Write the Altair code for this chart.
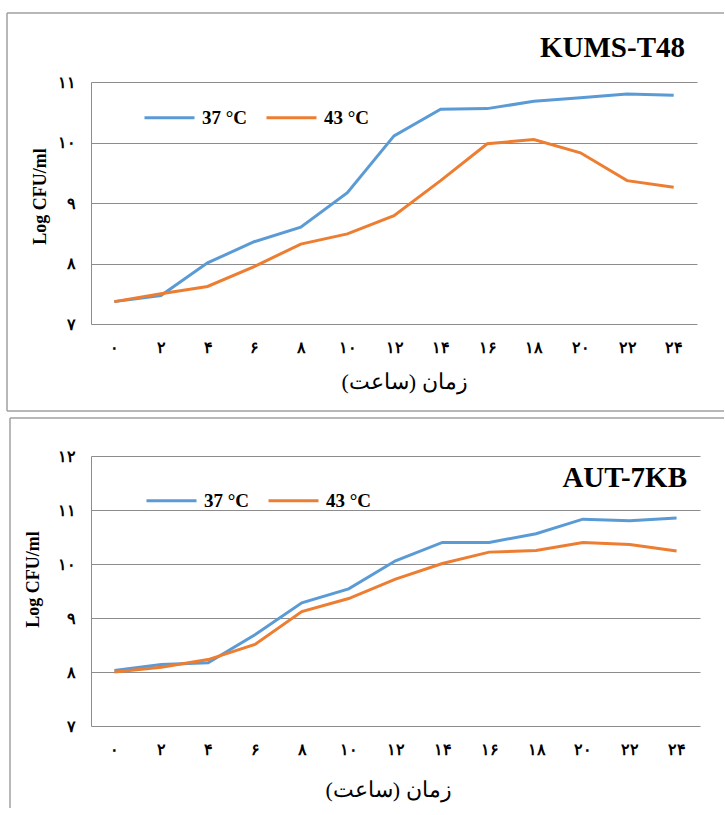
import altair as alt
import pandas as pd

# ---------------- data ----------------
hours = ['۰', '۲', '۴', '۶', '۸', '۱۰', '۱۲', '۱۴', '۱۶', '۱۸', '۲۰', '۲۲', '۲۴']
series_names = ['37 °C', '43 °C']

kums_37 = [7.37, 7.47, 8.01, 8.36, 8.60, 9.17, 10.11, 10.55, 10.56, 10.68, 10.74, 10.80, 10.78]
kums_43 = [7.37, 7.50, 7.62, 7.95, 8.32, 8.49, 8.79, 9.37, 9.98, 10.05, 9.83, 9.37, 9.26]

aut_37 = [8.03, 8.14, 8.17, 8.69, 9.28, 9.54, 10.06, 10.40, 10.40, 10.56, 10.83, 10.80, 10.85]
aut_43 = [8.00, 8.09, 8.23, 8.51, 9.12, 9.36, 9.72, 10.01, 10.22, 10.25, 10.40, 10.36, 10.24]

panel_titles = ['KUMS-T48', 'AUT-7KB']
y_title = 'Log CFU/ml'
x_title = 'زمان (ساعت)'
top_ticks = [7, 8, 9, 10, 11]
bot_ticks = [7, 8, 9, 10, 11, 12]
colors = ['#5B9BD5', '#ED7D31']

# ---------------- helpers ----------------
FA = '۰۱۲۳۴۵۶۷۸۹'


def fa(n):
    return ''.join(FA[int(c)] for c in str(n))


def long_df(s37, s43):
    rows = []
    for name, vals in zip(series_names, [s37, s43]):
        for h, v in zip(hours, vals):
            rows.append({'hour': h, 'series': name, 'value': v})
    return pd.DataFrame(rows)


GRID = '#8c8c8c'
BOX = '#a0a0a0'
SERIF = 'Liberation Serif'


def panel(s37, s43, ticks, title, w, h, g):
    df = long_df(s37, s43)
    label_expr = ' : '.join(f"datum.value == {t} ? '{fa(t)}'" for t in ticks) + " : ''"

    lines = alt.Chart(df).mark_line(strokeWidth=3).encode(
        x=alt.X('hour:N', sort=hours,
                axis=alt.Axis(title=x_title, labelAngle=0, ticks=False, tickSize=0,
                              domain=False, grid=False,
                              labelFont=SERIF, labelFontWeight='bold', labelFontSize=16,
                              labelColor='black', labelPadding=15,
                              titleFont=SERIF, titleFontSize=22, titleFontWeight='normal',
                              titleColor='black', titleX=g['xtx'], titleY=g['xty'],
                              titleBaseline='middle', titleAlign='center')),
        y=alt.Y('value:Q',
                scale=alt.Scale(domain=[ticks[0], ticks[-1]], nice=False, zero=False),
                axis=alt.Axis(values=ticks, labelExpr=label_expr, ticks=False, tickSize=0,
                              domain=True, domainColor=GRID, domainWidth=1,
                              grid=True, gridColor=GRID, gridWidth=1,
                              labelFont=SERIF, labelFontWeight='bold', labelFontSize=16,
                              labelColor='black', labelPadding=16,
                              title=y_title, titleFont=SERIF, titleFontSize=18,
                              titleFontWeight='bold', titleColor='black',
                              titleX=g['ytx'], titleY=g['yty'], titleAngle=270,
                              titleAlign='center', titleBaseline='middle')),
        color=alt.Color('series:N',
                        scale=alt.Scale(domain=series_names, range=colors),
                        legend=alt.Legend(orient='none', legendX=g['lx'], legendY=g['ly'],
                                          direction='horizontal', title=None,
                                          symbolType='stroke', symbolSize=2500,
                                          symbolStrokeWidth=3, labelFont=SERIF,
                                          labelFontWeight='bold', labelFontSize=19,
                                          labelColor='black', labelOffset=6,
                                          columnPadding=12, padding=0)),
    )

    deco = alt.Data(values=[{'t': title}])
    box_top = alt.Chart(deco).mark_rule(color=BOX, strokeWidth=1.5).encode(
        x=alt.value(g['bx0']), x2=alt.value(g['bx1']), y=alt.value(g['by0']))
    box_left = alt.Chart(deco).mark_rule(color=BOX, strokeWidth=1.5).encode(
        x=alt.value(g['bx0']), y=alt.value(g['by0']), y2=alt.value(g['by1']))
    layers = [box_top, box_left]
    if g.get('bottom_edge'):
        box_bottom = alt.Chart(deco).mark_rule(color=BOX, strokeWidth=1.5).encode(
            x=alt.value(g['bx0']), x2=alt.value(g['bx1']), y=alt.value(g['by1']))
        layers.append(box_bottom)

    title_txt = alt.Chart(deco).mark_text(
        font=SERIF, fontSize=29, fontWeight='bold', color='black',
        align='right', baseline='alphabetic').encode(
        text='t:N', x=alt.value(g['tx']), y=alt.value(g['ty']))

    return alt.layer(*layers, lines, title_txt).properties(width=w, height=h)


top_geo = dict(xtx=313, xty=57, ytx=-51, yty=114, lx=52, ly=9,
               bx0=-84, bx1=633, by0=-69, by1=329, bottom_edge=True,
               tx=594, ty=-25)
bot_geo = dict(xtx=297, xty=63, ytx=-58, yty=123, lx=54, ly=18,
               bx0=-81, bx1=633, by0=-38, by1=352,
               tx=596, ty=31)

top = panel(kums_37, kums_43, top_ticks, panel_titles[0], 606, 242, top_geo)
bottom = panel(aut_37, aut_43, bot_ticks, panel_titles[1], 609, 270, bot_geo)

chart = alt.vconcat(top, bottom, spacing=132, bounds='flush').resolve_scale(
    color='independent', y='independent', x='independent'
).configure_view(stroke=None).properties(
    padding={'left': 6, 'top': 12, 'right': 0, 'bottom': 0},
    background='white'
)

chart.save('out.html', embed_options={'renderer': 'svg', 'actions': False})
